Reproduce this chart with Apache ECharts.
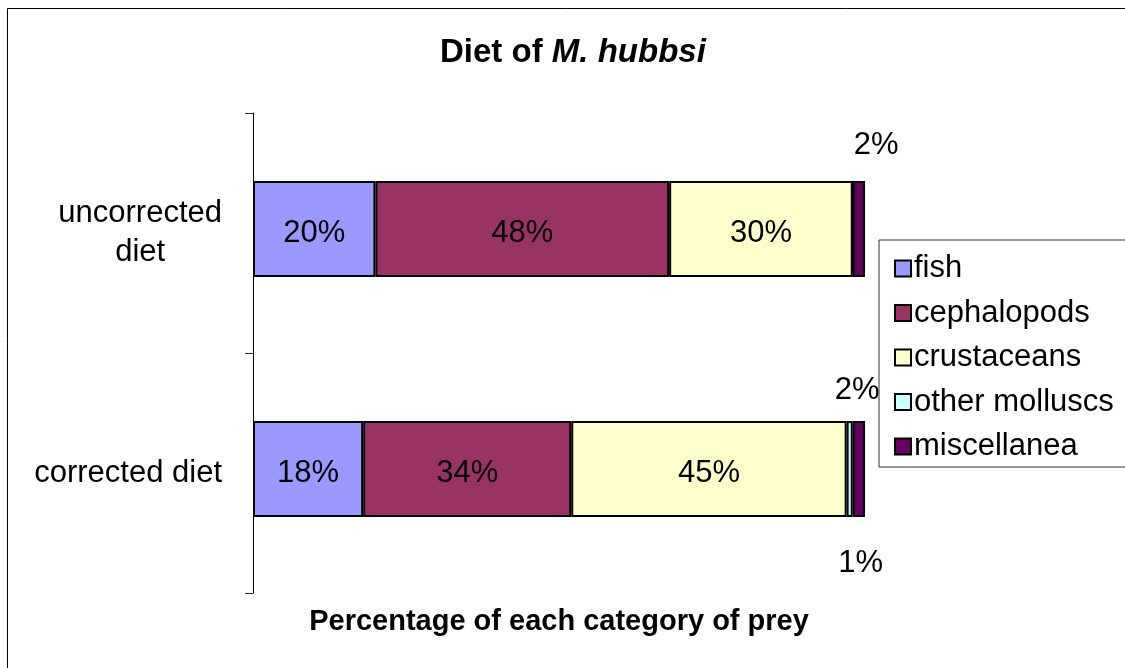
<!DOCTYPE html>
<html>
<head>
<meta charset="utf-8">
<script src="https://cdn.jsdelivr.net/npm/echarts@6/dist/echarts.min.js"></script>
<style>
html,body{margin:0;padding:0;background:#fff;}
#chart{width:1125px;height:668px;}
</style>
</head>
<body>
<div id="chart"></div>
<script>
const categories = ['uncorrected diet', 'corrected diet'];
const seriesNames = ['fish', 'cephalopods', 'crustaceans', 'other molluscs', 'miscellanea'];
const fish = [20, 18];
const cephalopods = [48, 34];
const crustaceans = [30, 45];
const otherMolluscs = [0, 1];
const miscellanea = [2, 2];
const seriesValues = [fish, cephalopods, crustaceans, otherMolluscs, miscellanea];
const colors = ['#9999FF', '#993366', '#FFFFCC', '#CCFFFF', '#660066'];

// label placement for the thin segments (relative to the bar rectangle)
const outsideLabelPos = {
  'miscellanea-0': [23.5, -36],
  'miscellanea-1': [4.5, -31],
  'other molluscs-1': [14, 142]
};

const FONT = '"Liberation Sans", Arial, sans-serif';

const series = seriesNames.map((name, si) => ({
  name: name,
  type: 'bar',
  stack: 'total',
  barWidth: '40%',
  xAxisIndex: 0,
  yAxisIndex: 0,
  itemStyle: { color: colors[si], borderColor: '#000', borderWidth: 2 },
  label: {
    show: true,
    position: 'inside',
    offset: [0, 4],
    fontFamily: FONT,
    fontSize: 31,
    color: '#000',
    formatter: p => (p.value > 0 ? p.value + '%' : '')
  },
  emphasis: { disabled: true },
  data: seriesValues[si].map((v, ci) => {
    const key = name + '-' + ci;
    if (outsideLabelPos[key]) {
      return { value: v, label: { position: outsideLabelPos[key], offset: [0, 0], align: 'center', verticalAlign: 'middle' } };
    }
    return v;
  })
}));

const chart = echarts.init(document.getElementById('chart'), null, { renderer: 'canvas' });
chart.setOption({
  animation: false,
  backgroundColor: '#fff',
  textStyle: { fontFamily: FONT },
  title: {
    text: '{b|Diet of }{i|M. hubbsi}',
    left: 440,
    top: 36,
    padding: 0,
    textStyle: {
      rich: {
        b: { fontFamily: FONT, fontWeight: 'bold', fontSize: 33, color: '#000' },
        i: { fontFamily: FONT, fontWeight: 'bold', fontStyle: 'italic', fontSize: 33, color: '#000' }
      }
    }
  },
  legend: {
    orient: 'vertical',
    left: 879,
    top: 240,
    padding: [13, 14, 5, 15],
    itemGap: 13.5,
    itemWidth: 16,
    itemHeight: 16,
    borderColor: '#333',
    borderWidth: 1,
    selectedMode: false,
    icon: 'rect',
    textStyle: { fontFamily: FONT, fontSize: 31, color: '#000', lineHeight: 31, padding: [0, 0, 0, -2] },
    data: seriesNames
  },
  grid: [
    { left: 253, right: 260, top: 109, bottom: 79, containLabel: false },
    { left: 253, right: 260, top: 113, bottom: 75, containLabel: false }
  ],
  xAxis: [
    {
      type: 'value', gridIndex: 0, min: 0, max: 100,
      axisLine: { show: false }, axisTick: { show: false },
      axisLabel: { show: false }, splitLine: { show: false }
    },
    {
      type: 'value', gridIndex: 1, min: 0, max: 100,
      axisLine: { show: false }, axisTick: { show: false },
      axisLabel: { show: false }, splitLine: { show: false },
      name: 'Percentage of each category of prey',
      nameLocation: 'middle',
      nameGap: 14,
      nameTextStyle: { fontFamily: FONT, fontWeight: 'bold', fontSize: 29, color: '#000' }
    }
  ],
  yAxis: [
    {
      type: 'category', gridIndex: 0, data: categories, inverse: true,
      axisLine: { show: false }, axisTick: { show: false }, axisLabel: { show: false }
    },
    {
      type: 'category', gridIndex: 1, data: categories, inverse: true,
      offset: 8,
      axisLine: { show: true, lineStyle: { color: '#000', width: 1 } },
      axisTick: { show: true, length: 8, lineStyle: { color: '#333' } },
      axisLabel: {
        margin: 23,
        align: 'right',
        fontFamily: FONT,
        fontSize: 31,
        color: '#000',
        formatter: v => v === 'uncorrected diet' ? '{c|uncorrected}\n{c|diet}' : '{c|' + v + '}',
        rich: { c: { fontFamily: FONT, fontSize: 31, color: '#000', align: 'center', lineHeight: 39 } }
      }
    }
  ],
  graphic: [{
    type: 'rect',
    shape: { x: 7.5, y: 8.5, width: 1300, height: 800 },
    style: { fill: 'none', stroke: '#000', lineWidth: 1 },
    silent: true,
    z: -1
  }],
  series: series
});
</script>
</body>
</html>
